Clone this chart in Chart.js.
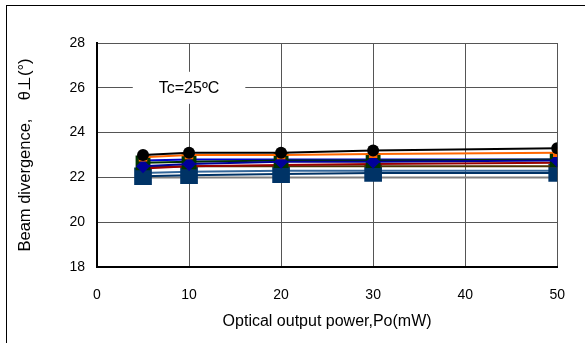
<!DOCTYPE html>
<html><head><meta charset="utf-8">
<script src="https://cdn.jsdelivr.net/npm/chart.js@4/dist/chart.umd.min.js"></script>
<style>html,body{margin:0;padding:0;background:#fff}#w{position:relative;width:585px;height:343px}</style>
</head><body><div id="w"><canvas id="c" width="585" height="343"></canvas></div>
<script>
const powers = [5, 10, 20, 30, 50];
const xTicks = [0, 10, 20, 30, 40, 50];
const yTicks = [18, 20, 22, 24, 26, 28];
const sBlack  = [23.0, 23.1, 23.1, 23.2, 23.3];
const sOrange = [22.9, 23.0, 23.0, 23.05, 23.1];
const sBlue   = [22.75, 22.8, 22.8, 22.8, 22.8];
const sGreen  = [22.65, 22.7, 22.75, 22.75, 22.8];
const sDiam   = [22.5, 22.6, 22.7, 22.7, 22.75];
const sRed    = [22.4, 22.5, 22.55, 22.6, 22.65];
const sBrown  = [22.45, 22.5, 22.5, 22.5, 22.5];
const sSteel  = [22.2, 22.25, 22.3, 22.3, 22.3];
const sNavy   = [22.05, 22.1, 22.15, 22.2, 22.2];
const sGray   = [22.0, 22.0, 22.0, 22.0, 22.0];
const annotText = 'Tc=25ºC';

function pts(arr){ return powers.map((x,i)=>({x:x,y:arr[i]})); }
function ds(arr,color,style,r,ptColor,order){
  return {data:pts(arr),borderColor:color,borderWidth:2,pointStyle:style||'circle',
    pointRadius:r||0,pointBackgroundColor:ptColor||color,pointBorderColor:ptColor||color,
    pointBorderWidth:0,order:order,tension:0};
}
const frame = {id:'frame',
  beforeDraw(chart){const c=chart.ctx;c.save();c.fillStyle='#fff';c.fillRect(0,0,chart.width,chart.height);
    c.strokeStyle='#000';c.lineWidth=1;c.strokeRect(6.5,5.5,chart.width,chart.height);c.restore();}
};
const annot = {id:'annot',
  afterDraw(chart){const c=chart.ctx;const xs=chart.scales.x, ys=chart.scales.y;
    const cx=xs.getPixelForValue(10), cy=ys.getPixelForValue(26);
    c.save();c.font='16px "Liberation Sans", Arial, sans-serif';
    const w=c.measureText(annotText).width;
    c.fillStyle='#fff';c.fillRect(cx-w/2-26,cy-16,w+52,32);
    c.fillStyle='#000';c.textAlign='center';c.textBaseline='middle';c.fillText(annotText,cx,cy+1);
    c.restore();}
};
new Chart(document.getElementById('c'),{
  type:'line',
  data:{datasets:[
    ds(sBlack,'#000000','circle',6,'#000000',1),
    ds(sOrange,'#ff6600','rect',6,'#ff6600',2),
    ds(sDiam,'#000099','rectRot',7,'#000099',3),
    ds(sGreen,'#003300','rect',10.5,'#003300',4),
    ds(sBlue,'#0000cc',null,0,null,5),
    ds(sRed,'#990000',null,0,null,6),
    ds(sBrown,'#4d3300',null,0,null,7),
    ds(sNavy,'#003366','rect',12.5,'#003366',8),
    ds(sSteel,'#336699',null,0,null,9),
    ds(sGray,'#808080',null,0,null,10)
  ]},
  options:{responsive:false,animation:false,
    layout:{padding:{left:12,right:23,top:43,bottom:0}},
    plugins:{legend:{display:false},tooltip:{enabled:false}},
    scales:{
      x:{type:'linear',min:0,max:50,
        afterBuildTicks(s){s.ticks=xTicks.map(v=>({value:v}));},
        afterFit(s){s.height=76;},
        grid:{color:'#555',lineWidth:1,drawTicks:false},
        border:{color:'#000',width:2},
        ticks:{padding:20,color:'#000',font:{family:'"Liberation Sans", Arial',size:14},maxRotation:0},
        title:{display:true,text:'Optical output power,Po(mW)',color:'#000',font:{family:'"Liberation Sans", Arial',size:16},padding:{top:2,bottom:12}}
      },
      y:{type:'linear',min:18,max:28,
        afterBuildTicks(s){s.ticks=yTicks.map(v=>({value:v}));},
        afterFit(s){s.width=85;},
        grid:{color:'#555',lineWidth:1,drawTicks:false},
        border:{color:'#000',width:2},
        ticks:{padding:12,color:'#000',font:{family:'"Liberation Sans", Arial',size:14}},
        title:{display:true,text:'Beam divergence,    θ⊥(°)',color:'#000',font:{family:'"Liberation Sans", Arial',size:16.5},padding:{bottom:4}}
      }
    }
  },
  plugins:[frame,annot]
});
</script></body></html>
